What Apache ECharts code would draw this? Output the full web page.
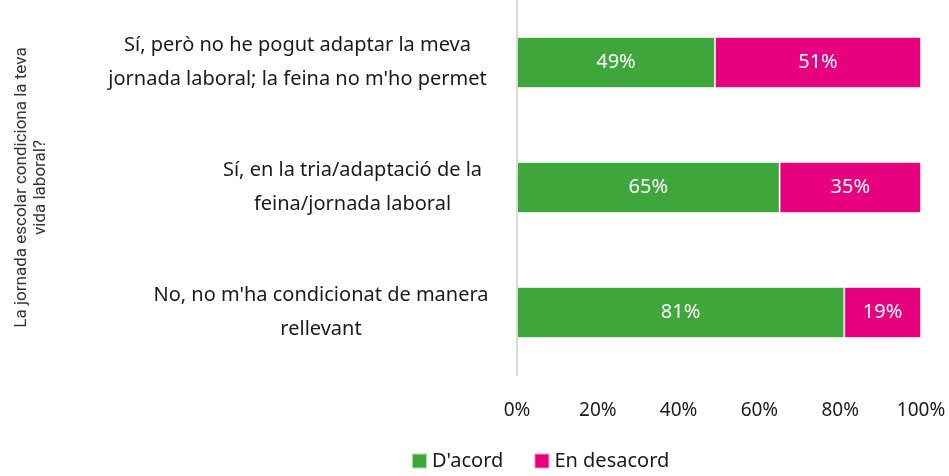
<!DOCTYPE html>
<html>
<head>
<meta charset="utf-8">
<script src="https://cdn.jsdelivr.net/npm/echarts@6/dist/echarts.min.js"></script>
<style>
  html, body { margin: 0; padding: 0; background: #fff; }
  #chart { width: 949px; height: 476px; }
</style>
</head>
<body>
<div id="chart"></div>
<script>
// categories, bottom to top (category axis starts at the bottom)
const categories = [
  "No, no m'ha condicionat de manera\nrellevant",
  'Sí, en la tria/adaptació de la\nfeina/jornada laboral',
  "Sí, però no he pogut adaptar la meva\njornada laboral; la feina no m'ho permet"
]
const acord = [81, 65, 49]
const desacord = [19, 35, 51]
const xTicks = [0, 20, 40, 60, 80, 100]
const axisTitle = 'La jornada escolar condiciona la teva\nvida laboral?'

// ample de cada bloc d'etiqueta (línies centrades dins del bloc)
const labelWidths = [338, 275, 385]
const rich = {}
labelWidths.forEach((w, i) => {
  rich['w' + i] = {
    width: w,
    align: 'center',
    fontSize: 20,
    lineHeight: 34,
    color: '#1a1a1a',
    fontFamily: 'Noto Sans'
  }
})

const chart = echarts.init(document.getElementById('chart'))
const option = {
  animation: false,
  textStyle: { fontFamily: 'Noto Sans' },
  grid: { left: 517, right: 28, top: -2, bottom: 101, containLabel: false },
  legend: {
    left: 406,
    bottom: 0,
    itemWidth: 15,
    itemHeight: 15,
    itemGap: 30,
    icon: 'rect',
    textStyle: { fontSize: 20, color: '#1a1a1a', fontFamily: 'Noto Sans' },
    data: ["D'acord", 'En desacord']
  },
  xAxis: {
    type: 'value',
    min: 0,
    max: 100,
    interval: 20,
    axisLine: { show: false },
    axisTick: { show: false },
    splitLine: { show: false },
    axisLabel: {
      margin: 26,
      fontSize: 19,
      color: '#1a1a1a',
      formatter: (v) => (xTicks.includes(v) ? v + '%' : '')
    }
  },
  yAxis: {
    type: 'category',
    data: categories,
    name: axisTitle,
    nameLocation: 'middle',
    nameRotate: 90,
    nameGap: 486,
    nameTextStyle: {
      fontSize: 17,
      lineHeight: 19,
      color: '#333',
      fontFamily: 'Roboto',
      align: 'center',
      verticalAlign: 'middle'
    },
    axisLine: { show: true, lineStyle: { color: '#d9d9d9', width: 2 } },
    axisTick: { show: false },
    axisLabel: {
      margin: 27,
      align: 'right',
      formatter: (value, index) =>
        value.split('\n').map((l) => '{w' + index + '|' + l + '}').join('\n'),
      rich: rich
    }
  },
  series: [
    {
      name: "D'acord",
      type: 'bar',
      stack: 'total',
      barWidth: 51,
      data: acord,
      itemStyle: { color: '#3ea63a', borderColor: 'rgba(255,255,255,0.6)', borderWidth: 1 },
      label: {
        show: true,
        position: 'inside',
        color: '#fff',
        fontSize: 20,
        formatter: (p) => p.value + '%'
      }
    },
    {
      name: 'En desacord',
      type: 'bar',
      stack: 'total',
      barWidth: 51,
      data: desacord,
      itemStyle: { color: '#e6007e', borderColor: 'rgba(255,255,255,0.6)', borderWidth: 1 },
      label: {
        show: true,
        position: 'inside',
        color: '#fff',
        fontSize: 20,
        formatter: (p) => p.value + '%'
      }
    }
  ]
}
chart.setOption(option)
</script>
</body>
</html>
